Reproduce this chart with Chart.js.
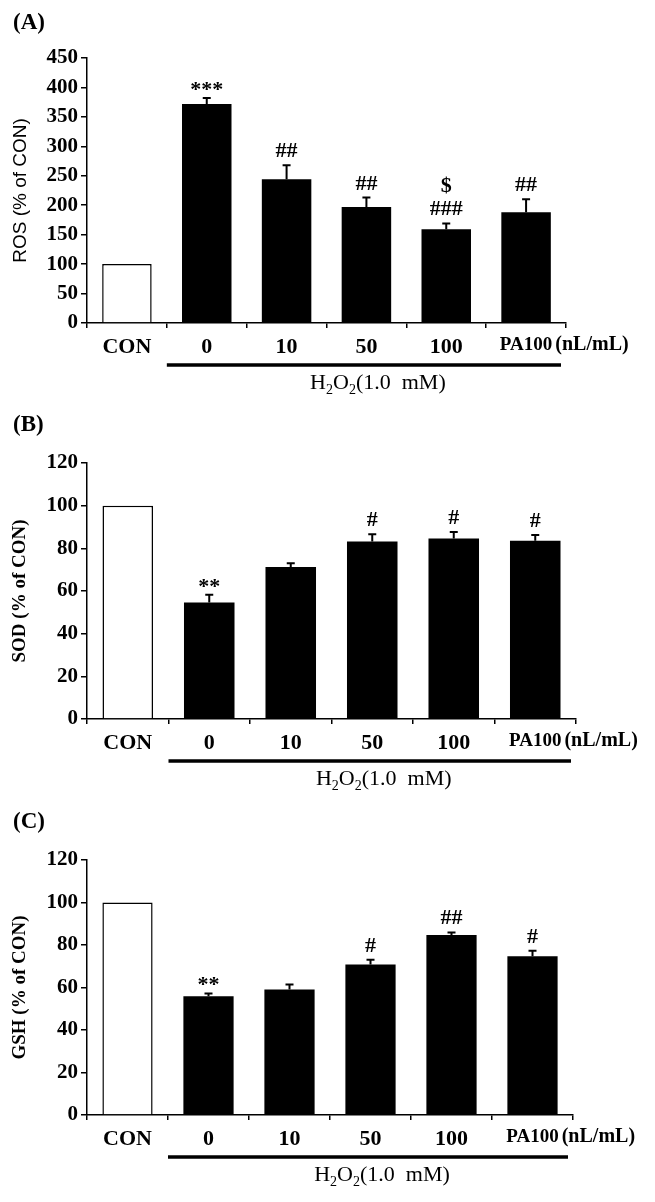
<!DOCTYPE html>
<html><head><meta charset="utf-8">
<script src="https://cdn.jsdelivr.net/npm/chart.js@4.4.1/dist/chart.umd.min.js"></script>
<style>
html,body{margin:0;padding:0;background:#fff;}
#wrap{position:relative;width:655px;height:1202px;background:#fff;}
canvas{position:absolute;left:0;}
</style></head><body>
<div id="wrap">
<canvas id="cA" width="655" height="395" style="top:0px"></canvas>
<canvas id="cB" width="655" height="395" style="top:395px"></canvas>
<canvas id="cC" width="655" height="412" style="top:790px"></canvas>
</div>
<script>
// ---- data ----
const categories = ['CON', '0', '10', '50', '100', 'PA100'];
const unitLabel = '(nL/mL)';
const groupLabelParts = [['H', false], ['2', true], ['O', false], ['2', true], ['(1.0  mM)', false]];

const rosMean = [100, 372, 244, 197, 159, 188];
const rosErr  = [0, 10, 24, 16, 10, 22];
const rosMarks = [[], ['***'], ['##'], ['##'], ['$', '###'], ['##']];
const rosTicks = { min: 0, max: 450, step: 50 };

const sodMean = [100, 54.6, 71.2, 83.2, 84.6, 83.5];
const sodErr  = [0, 3.6, 1.8, 3.4, 3.0, 2.8];
const sodMarks = [[], ['**'], [], ['#'], ['#'], ['#']];
const sodTicks = { min: 0, max: 120, step: 20 };

const gshMean = [100, 55.9, 59.1, 70.8, 84.7, 74.7];
const gshErr  = [0, 1.3, 2.3, 2.3, 1.2, 2.6];
const gshMarks = [[], ['**'], [], ['#'], ['##'], ['#']];
const gshTicks = { min: 0, max: 120, step: 20 };

const SERIF = '"Liberation Serif", "Times New Roman", serif';
const SANS = '"Liberation Sans", Arial, sans-serif';

const decoPlugin = {
  id: 'deco',
  afterDraw(chart, args, o) {
    const ctx = chart.ctx, xs = chart.scales.x, ys = chart.scales.y;
    const meta = chart.getDatasetMeta(0);
    const axisY = chart.chartArea.bottom;
    ctx.save();
    ctx.fillStyle = '#000'; ctx.strokeStyle = '#000';
    // error bars (upper half)
    ctx.lineWidth = 2;
    o.err.forEach((e, i) => {
      if (!e) return;
      const cx = meta.data[i].x;
      const t = ys.getPixelForValue(o.mean[i]);
      const et = ys.getPixelForValue(o.mean[i] + e);
      ctx.beginPath(); ctx.moveTo(cx, t); ctx.lineTo(cx, et);
      ctx.moveTo(cx - 4, et); ctx.lineTo(cx + 4, et); ctx.stroke();
    });
    // significance marks
    ctx.font = 'bold 22px ' + SERIF; ctx.textAlign = 'center'; ctx.textBaseline = 'alphabetic';
    o.marks.forEach((lines, i) => {
      if (!lines.length) return;
      const cx = meta.data[i].x;
      let yy = ys.getPixelForValue(o.mean[i] + o.err[i]) - 8;
      for (let k = lines.length - 1; k >= 0; k--) {
        const s = lines[k];
        ctx.fillText(s, cx, s.indexOf('*') >= 0 ? yy + 6 : yy);
        yy -= 23;
      }
    });
    // panel letter
    ctx.textAlign = 'left'; ctx.font = 'bold 23px ' + SERIF;
    ctx.fillText(o.letter, 13, o.letterY);
    // unit label
    ctx.font = 'bold 19px ' + SERIF;
    const pa = xs.getPixelForValue(5);
    const paw = ctx.measureText(categories[5]).width;
    ctx.font = 'bold 20px ' + SERIF; ctx.textBaseline = 'top';
    ctx.fillText(unitLabel, pa + paw / 2 + 3, axisY + 12);
    // bracket
    const bl = (xs.getPixelForValue(0) + xs.getPixelForValue(1)) / 2;
    const br = chart.chartArea.right - 5;
    ctx.lineWidth = 3.5;
    ctx.beginPath(); ctx.moveTo(bl, axisY + 42); ctx.lineTo(br, axisY + 42); ctx.stroke();
    // group label with subscripts
    ctx.textBaseline = 'alphabetic';
    const big = '22px ' + SERIF, small = '14px ' + SERIF;
    let w = 0;
    groupLabelParts.forEach(([s, sub]) => { ctx.font = sub ? small : big; w += ctx.measureText(s).width; });
    let gx = (bl + br) / 2 + 14 - w / 2;
    const gy = axisY + 66;
    groupLabelParts.forEach(([s, sub]) => {
      ctx.font = sub ? small : big;
      ctx.fillText(s, gx, sub ? gy + 5 : gy);
      gx += ctx.measureText(s).width;
    });
    ctx.restore();
  }
};

function makeChart(id, mean, err, marks, tk, title, titleFont, letter, letterY, padTop, xH, padRight) {
  return new Chart(document.getElementById(id), {
    type: 'bar',
    data: {
      labels: categories,
      datasets: [{
        data: mean,
        backgroundColor: mean.map((v, i) => i === 0 ? '#fff' : '#000'),
        borderColor: '#000',
        borderWidth: mean.map((v, i) => i === 0 ? 1.5 : 0),
        barPercentage: 0.62,
        categoryPercentage: 1.0
      }]
    },
    options: {
      responsive: false,
      animation: false,
      layout: { padding: { top: padTop, right: padRight, left: 0, bottom: 0 } },
      plugins: {
        legend: { display: false }, tooltip: { enabled: false },
        deco: { mean, err, marks, letter, letterY }
      },
      scales: {
        x: {
          grid: { drawOnChartArea: false, drawTicks: true, tickLength: 5, color: '#000', lineWidth: 1.5, offset: true },
          border: { color: '#000', width: 1.5 },
          ticks: {
            color: '#000', padding: 6, maxRotation: 0, autoSkip: false,
            font: (c) => ({ family: SERIF, weight: 'bold', size: c.index === 5 ? 19 : 22 })
          },
          afterFit: (s) => { s.height = xH; }
        },
        y: {
          min: tk.min, max: tk.max,
          grid: { drawOnChartArea: false, drawTicks: true, tickLength: 6, color: '#000', lineWidth: 1.5 },
          border: { color: '#000', width: 1.5 },
          ticks: { stepSize: tk.step, color: '#000', padding: 3, font: { family: SERIF, weight: 'bold', size: 21 } },
          title: { display: true, text: title, color: '#000', font: titleFont, padding: { top: 9, bottom: 0 } },
          afterFit: (s) => { s.width = 87; }
        }
      }
    },
    plugins: [decoPlugin]
  });
}

makeChart('cA', rosMean, rosErr, rosMarks, rosTicks, 'ROS (% of CON)',
  { family: SANS, size: 19, weight: 'normal' }, '(A)', 29, 58, 72, 89);
makeChart('cB', sodMean, sodErr, sodMarks, sodTicks, 'SOD (% of CON)',
  { family: SERIF, size: 19, weight: 'bold' }, '(B)', 36, 68, 71, 79);
makeChart('cC', gshMean, gshErr, gshMarks, gshTicks, 'GSH (% of CON)',
  { family: SERIF, size: 19, weight: 'bold' }, '(C)', 38, 70, 87, 82);
</script>
</body></html>
